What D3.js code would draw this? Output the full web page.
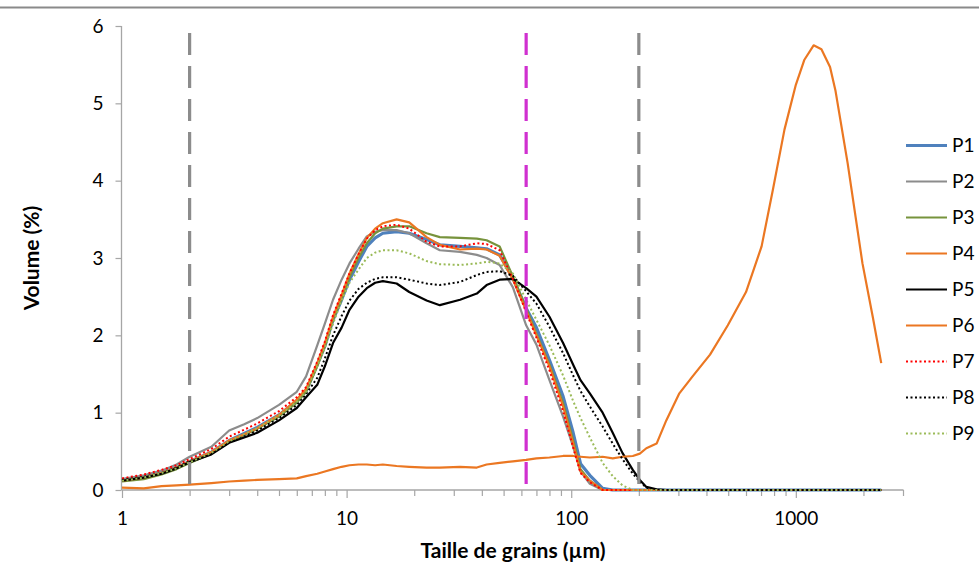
<!DOCTYPE html>
<html><head><meta charset="utf-8">
<script src="https://cdn.jsdelivr.net/npm/d3@7"></script>
<style>body{margin:0;background:#fff}svg{display:block}text{font-family:Lato,"Open Sans",sans-serif}</style>
</head><body>
<svg id="chart" width="979" height="570"></svg>
<script>
// Grain sizes (µm)
const sizes = [1,1.25,1.5,1.75,2,2.5,3,3.5,4,5,
  6,6.6,7.4,8,8.7,9.5,10.3,11.3,12.3,13.4,
  14.5,16.7,19,22.7,26,32,38,42,48,55,
  63,70,80,92,102,110,121,138,153,169,
  188,202,216,240,265,303,347,415,498,600,
  704,790,890,1000,1090,1200,1300,1420,1500,1700,
  1980,2200,2400];
const P1 = [0.13,0.17,0.23,0.29,0.37,0.49,0.64,0.73,0.81,0.97,
  1.15,1.28,1.62,1.86,2.2,2.46,2.72,2.95,3.15,3.26,
  3.32,3.34,3.32,3.24,3.17,3.15,3.13,3.12,3.04,2.74,
  2.35,2.1,1.68,1.21,0.74,0.34,0.19,0.02,0,0,
  0,0,0,0,0,0,0,0,0,0,0,0,0,0,0,0,0,0,0,0,0,0,0];
const P2 = [0.14,0.19,0.25,0.33,0.43,0.56,0.77,0.85,0.93,1.1,
  1.27,1.47,1.87,2.15,2.46,2.72,2.93,3.12,3.28,3.34,
  3.36,3.36,3.32,3.19,3.1,3.08,3.04,3.0,2.91,2.62,
  2.13,1.88,1.42,0.95,0.56,0.24,0.08,0,0,0,
  0,0,0,0,0,0,0,0,0,0,0,0,0,0,0,0,0,0,0,0,0,0,0];
const P3 = [0.11,0.14,0.2,0.27,0.35,0.47,0.62,0.71,0.79,0.95,
  1.13,1.27,1.6,1.86,2.2,2.47,2.75,3.0,3.19,3.32,
  3.38,3.41,3.41,3.32,3.27,3.26,3.25,3.23,3.15,2.76,
  2.35,2.02,1.62,1.12,0.64,0.27,0.12,0,0,0,
  0,0,0,0,0,0,0,0,0,0,0,0,0,0,0,0,0,0,0,0,0,0,0];
const P4 = [0.12,0.16,0.22,0.29,0.37,0.49,0.64,0.72,0.8,0.97,
  1.17,1.31,1.64,1.9,2.24,2.52,2.8,3.05,3.26,3.38,
  3.45,3.5,3.46,3.27,3.17,3.11,3.12,3.11,3.03,2.72,
  2.32,2.0,1.6,1.08,0.6,0.24,0.12,0,0,0,
  0,0,0,0,0,0,0,0,0,0,0,0,0,0,0,0,0,0,0,0,0,0,0];
const P5 = [0.12,0.16,0.21,0.28,0.36,0.46,0.61,0.68,0.74,0.9,
  1.06,1.2,1.36,1.6,1.9,2.1,2.33,2.5,2.61,2.68,
  2.7,2.67,2.56,2.45,2.39,2.46,2.54,2.65,2.72,2.73,
  2.61,2.5,2.24,1.9,1.62,1.42,1.25,1.0,0.74,0.48,
  0.26,0.13,0.04,0.01,0,0,0,0,0,0,0,0,0,0,0,0,0,0,0,0,0,0,0];
const P6 = [0.03,0.02,0.05,0.06,0.07,0.09,0.11,0.12,0.13,0.14,
  0.15,0.18,0.21,0.24,0.27,0.3,0.32,0.33,0.33,0.32,
  0.33,0.31,0.3,0.29,0.29,0.3,0.29,0.33,0.35,0.37,
  0.39,0.41,0.42,0.44,0.44,0.43,0.42,0.43,0.41,0.43,
  0.44,0.47,0.54,0.6,0.9,1.25,1.47,1.75,2.13,2.56,
  3.15,3.88,4.66,5.24,5.56,5.75,5.7,5.47,5.17,4.23,
  2.93,2.24,1.64];
const P7 = [0.15,0.2,0.26,0.32,0.4,0.53,0.69,0.78,0.86,1.02,
  1.2,1.33,1.66,1.92,2.26,2.54,2.8,3.05,3.25,3.36,
  3.41,3.43,3.38,3.21,3.15,3.15,3.19,3.18,3.1,2.73,
  2.3,1.97,1.55,1.02,0.55,0.22,0.1,0,0,0,
  0,0,0,0,0,0,0,0,0,0,0,0,0,0,0,0,0,0,0,0,0,0,0];
const P8 = [0.13,0.17,0.22,0.29,0.37,0.47,0.62,0.7,0.77,0.93,
  1.1,1.24,1.45,1.7,2.0,2.25,2.45,2.6,2.68,2.73,
  2.75,2.75,2.72,2.67,2.65,2.69,2.78,2.82,2.83,2.77,
  2.57,2.41,2.11,1.77,1.48,1.28,1.08,0.82,0.6,0.4,
  0.21,0.11,0.03,0,0,0,0,0,0,0,0,0,0,0,0,0,0,0,0,0,0,0,0];
const P9 = [0.12,0.16,0.22,0.28,0.36,0.48,0.63,0.72,0.8,0.96,
  1.14,1.27,1.6,1.84,2.15,2.45,2.68,2.85,3.0,3.07,
  3.1,3.1,3.06,2.96,2.92,2.91,2.93,2.95,2.93,2.8,
  2.46,2.2,1.87,1.48,1.15,0.93,0.68,0.35,0.18,0.06,
  0,0,0,0,0,0,0,0,0,0,0,0,0,0,0,0,0,0,0,0,0,0,0];
const seriesNames = ["P1","P2","P3","P4","P5","P6","P7","P8","P9"];
const seriesValues = [P1,P2,P3,P4,P5,P6,P7,P8,P9];
const refSizes = [2, 63, 200];
const xTickLabels = [1, 10, 100, 1000];
const yTickLabels = [0,1,2,3,4,5,6];

// styles
const styles = {
  P1:{c:"#4F81BD",w:3.2,d:null},
  P2:{c:"#8C8C8C",w:2.2,d:null},
  P3:{c:"#77933C",w:2.2,d:null},
  P4:{c:"#EB7722",w:2.2,d:null},
  P5:{c:"#000000",w:2.2,d:null},
  P6:{c:"#EB7722",w:2.2,d:null},
  P7:{c:"#FF0000",w:2,d:"2,2.5"},
  P8:{c:"#000000",w:2,d:"2,2.5"},
  P9:{c:"#9BBB59",w:2,d:"2,2.5"}
};
const refStyles = ["#8C8C8C","#D030D0","#8C8C8C"];

const svg = d3.select("#chart");
const x = d3.scaleLog().domain([1,3000]).range([122,903]);
const y = d3.scaleLinear().domain([0,6]).range([490,26]);

// top border
svg.append("line").attr("x1",0).attr("x2",979).attr("y1",7.5).attr("y2",7.5)
  .attr("stroke","#8a8a8a").attr("stroke-width",2);

// axes
const minorTicks = [];
[1,10,100,1000].forEach(d=>{for(let k=1;k<=9;k++){const v=d*k; if(v<=3000) minorTicks.push(v);}});
const xAxis = d3.axisBottom(x).tickValues(minorTicks).tickSize(6)
  .tickFormat(d=> xTickLabels.includes(d)? d3.format("d")(d):"");
const gx = svg.append("g").attr("transform","translate(0,490)").call(xAxis);
gx.select(".domain").attr("stroke","#A6A6A6").attr("stroke-width",1.3).attr("d","M121.5,0H903.5");
gx.selectAll(".tick line").attr("stroke","#A6A6A6").attr("stroke-width",1.2)
  .attr("y2",d=>xTickLabels.includes(d)?8:6);
gx.selectAll(".tick text").attr("y",22).attr("dy","0.71em").attr("font-size",19).attr("fill","#000")
  .attr("font-family","Lato, 'Open Sans', sans-serif");

const yAxis = d3.axisLeft(y).tickValues(yTickLabels).tickSize(6).tickPadding(12).tickFormat(d3.format("d"));
const gy = svg.append("g").attr("transform","translate(121.5,0)").call(yAxis);
gy.select(".domain").attr("stroke","#A6A6A6").attr("stroke-width",1.3).attr("d","M0,26V490");
gy.selectAll(".tick line").attr("stroke","#A6A6A6").attr("stroke-width",1.2);
gy.selectAll(".tick text").attr("font-size",19).attr("fill","#000")
  .attr("font-family","Lato, 'Open Sans', sans-serif");

// series
const line = d3.line().x((d,i)=>x(sizes[i])).y(d=>y(d));
seriesNames.forEach((n,si)=>{
  const s = styles[n];
  svg.append("path").datum(seriesValues[si]).attr("d",line)
    .attr("fill","none").attr("stroke",s.c).attr("stroke-width",s.w)
    .attr("stroke-dasharray",s.d).attr("stroke-linejoin","round");
});

// reference dashed lines
refSizes.forEach((v,i)=>{
  svg.append("line").attr("x1",x(v)).attr("x2",x(v)).attr("y1",33).attr("y2",490)
    .attr("stroke",refStyles[i]).attr("stroke-width",3.2).attr("stroke-dasharray","22,11");
});

// legend
const lg = svg.append("g");
seriesNames.forEach((n,i)=>{
  const s = styles[n];
  const yy = 145.5 + i*36;
  lg.append("line").attr("x1",906).attr("x2",947).attr("y1",yy).attr("y2",yy)
    .attr("stroke",s.c).attr("stroke-width",n==="P1"?3.2:s.w).attr("stroke-dasharray",s.d);
  lg.append("text").attr("x",952).attr("y",yy).attr("dy","0.36em").attr("font-size",19).text(n);
});

// axis titles
svg.append("text").attr("x",513).attr("y",551).attr("dy","0.35em").attr("text-anchor","middle")
  .attr("font-size",21).attr("font-weight","bold").text("Taille de grains (µm)");
svg.append("text").attr("transform","translate(32,258) rotate(-90)").attr("dy","0.35em")
  .attr("text-anchor","middle").attr("font-size",21).attr("font-weight","bold").text("Volume (%)");
</script>
</body></html>
